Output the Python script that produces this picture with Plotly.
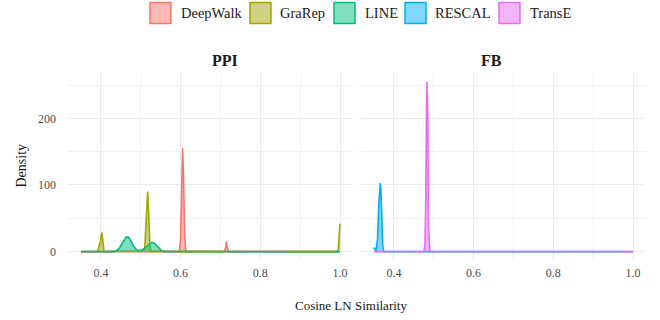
import plotly.graph_objects as go

# ---- data ----
methods = ["DeepWalk", "GraRep", "LINE", "RESCAL", "TransE"]
line_colors = ["#F8766D", "#A3A500", "#00BF7D", "#00B0F6", "#E76BF3"]
fill_colors = ["rgba(248,118,109,0.5)", "rgba(163,165,0,0.5)", "rgba(0,191,125,0.5)",
               "rgba(0,176,246,0.5)", "rgba(231,107,243,0.5)"]
panels = ["PPI", "FB"]

# PPI panel
ppi_deepwalk_x = [0.35, 0.597, 0.600, 0.603, 0.605, 0.607, 0.610, 0.613, 0.70, 0.710, 0.713, 0.715, 0.717, 0.720, 1.0]
ppi_deepwalk_y = [0, 0, 20, 110, 155, 120, 30, 0, 0, 0, 6, 15, 6, 0, 0]
ppi_grarep_x = [0.35, 0.392, 0.395, 0.3975, 0.399, 0.4025, 0.405, 0.408, 0.43, 0.50, 0.510, 0.513, 0.5155, 0.5175, 0.520, 0.523, 0.526, 0.55, 0.993, 0.996, 0.998, 1.0]
ppi_grarep_y = [0, 0, 8, 14, 15, 29, 15, 0, 0.6, 0.8, 5, 45, 88, 90, 55, 8, 0, 0.5, 0, 5, 25, 42]
ppi_line_x = [0.35, 0.435, 0.445, 0.452, 0.458, 0.463, 0.4667, 0.471, 0.476, 0.482, 0.490, 0.497, 0.505, 0.513, 0.520, 0.525, 0.529, 0.534, 0.540, 0.547, 0.553, 0.560, 1.0]
ppi_line_y = [0, 0, 4, 11, 18, 21.5, 22, 20.5, 15, 8, 2.5, 1.5, 3, 7, 11, 13, 13.5, 12.5, 9, 4, 1, 0, 0]

# FB panel
fb_rescal_x = [0.35, 0.3508, 0.352, 0.356, 0.359, 0.362, 0.364, 0.3658, 0.368, 0.370, 0.372, 0.375, 1.0]
fb_rescal_y = [4, 6, 5, 2, 20, 70, 98, 103, 85, 40, 8, 0, 0]
fb_transe_x = [0.35, 0.475, 0.478, 0.480, 0.482, 0.4833, 0.485, 0.487, 0.490, 1.0]
fb_transe_y = [0, 0, 10, 80, 220, 255, 200, 40, 0, 0]

y_ticks = [0, 100, 200]
x_ticks = [0.4, 0.6, 0.8, 1.0]
x_tick_labels = ["0.4", "0.6", "0.8", "1.0"]

series = {
    "PPI": [("DeepWalk", ppi_deepwalk_x, ppi_deepwalk_y),
            ("GraRep", ppi_grarep_x, ppi_grarep_y),
            ("LINE", ppi_line_x, ppi_line_y)],
    "FB": [("RESCAL", fb_rescal_x, fb_rescal_y),
           ("TransE", fb_transe_x, fb_transe_y)],
}

fig = go.Figure()
axes = {"PPI": ("x", "y"), "FB": ("x2", "y2")}
for p in panels:
    xa, ya = axes[p]
    for name, xs, ys in series[p]:
        i = methods.index(name)
        fig.add_trace(go.Scatter(x=xs, y=ys, mode="lines", fill="tozeroy",
                                 fillcolor=fill_colors[i],
                                 line=dict(color=line_colors[i], width=1.6),
                                 xaxis=xa, yaxis=ya, showlegend=False, hoverinfo="skip"))

font = "Liberation Serif, Times New Roman, Times, serif"
grid = "#EBEBEB"
xr = [0.3175, 1.0325]
yr = [-12.6, 268]
common_x = dict(range=xr, tickvals=x_ticks, ticktext=x_tick_labels,
                showgrid=True, gridcolor=grid, gridwidth=1.2,
                minor=dict(dtick=0.1, tick0=0.0, showgrid=True, gridcolor="#F2F2F2", gridwidth=0.8),
                zeroline=False, showline=False, ticks="", automargin=False,
                tickfont=dict(family=font, size=12, color="#4D4D4D"), ticklabelstandoff=4)
common_y = dict(range=yr, tickvals=y_ticks, showgrid=True, gridcolor=grid, gridwidth=1.2,
                minor=dict(dtick=50, tick0=0, showgrid=True, gridcolor="#F2F2F2", gridwidth=0.8),
                zeroline=False, showline=False, ticks="", automargin=False,
                tickfont=dict(family=font, size=12, color="#4D4D4D"))

W, H = 660, 320
x1d = [68 / W, 353 / W]
x2d = [361 / W, 646 / W]
yd = [(H - 260) / H, (H - 73) / H]

fig.update_layout(
    width=W, height=H, margin=dict(l=0, r=0, t=0, b=0, autoexpand=False),
    paper_bgcolor="white", plot_bgcolor="white",
    font=dict(family=font, color="black"),
    xaxis=dict(domain=x1d, anchor="y", **common_x),
    xaxis2=dict(domain=x2d, anchor="y2", matches="x", **common_x),
    yaxis=dict(domain=yd, anchor="x", ticklabelstandoff=11, **common_y),
    yaxis2=dict(domain=yd, anchor="x2", matches="y", showticklabels=False, **common_y),
    showlegend=False,
)

# legend drawn manually (ggplot style keys)
box_left = [150, 250, 334, 405, 499]
text_left = [179, 278, 363, 433, 528]
shapes = []
annots = []
for i, m in enumerate(methods):
    shapes.append(dict(type="rect", xref="paper", yref="paper",
                       x0=box_left[i] / W, x1=(box_left[i] + 21) / W,
                       y0=(H - 23.5) / H, y1=(H - 2.5) / H,
                       fillcolor=fill_colors[i], line=dict(color=line_colors[i], width=1.5)))
    annots.append(dict(text=m, x=text_left[i] / W, y=(H - 13) / H, xref="paper", yref="paper",
                       xanchor="left", yanchor="middle", showarrow=False,
                       font=dict(family=font, size=14.5, color="#1A1A1A")))

annots += [
    dict(text="<b>PPI</b>", x=(x1d[0] + x1d[1]) / 2, y=(H - 60) / H, xref="paper", yref="paper",
         showarrow=False, font=dict(family=font, size=16, color="#1A1A1A"), yanchor="middle"),
    dict(text="<b>FB</b>", x=(x2d[0] + x2d[1]) / 2, y=(H - 60) / H, xref="paper", yref="paper",
         showarrow=False, font=dict(family=font, size=16, color="#1A1A1A"), yanchor="middle"),
    dict(text="Density", x=20.5 / W, y=(H - 166) / H, xref="paper", yref="paper", textangle=-90,
         showarrow=False, font=dict(family=font, size=14, color="#1A1A1A"), xanchor="center", yanchor="middle"),
    dict(text="Cosine LN Similarity", x=351 / W, y=(H - 305) / H, xref="paper", yref="paper",
         showarrow=False, font=dict(family=font, size=13, color="#1A1A1A"), yanchor="middle"),
]
fig.update_layout(annotations=annots, shapes=shapes)

fig.write_html("out.html", config={"displayModeBar": False},
               post_script="document.body.style.margin='0';")
